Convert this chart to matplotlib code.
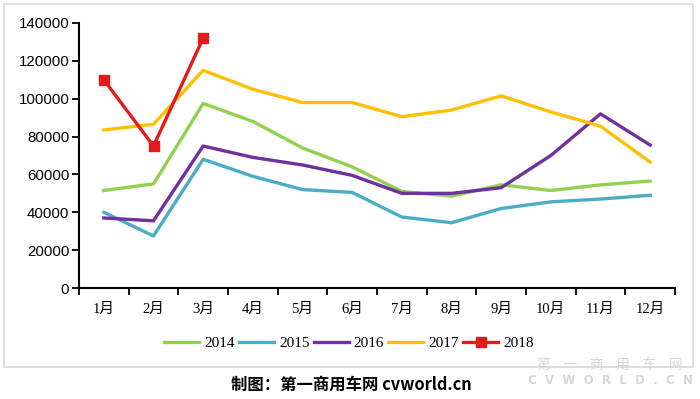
import matplotlib
matplotlib.use("Agg")
import matplotlib.pyplot as plt
from matplotlib.patches import Rectangle
import numpy as np

months = ["1月", "2月", "3月", "4月", "5月", "6月", "7月", "8月", "9月", "10月", "11月", "12月"]
s2014 = [51500, 55000, 97500, 88000, 74000, 64000, 51000, 48500, 54500, 51500, 54500, 56500]
s2015 = [40000, 27500, 68000, 59000, 52000, 50500, 37500, 34500, 42000, 45500, 47000, 49000]
s2016 = [37000, 35500, 75000, 69000, 65000, 59500, 50000, 50000, 53000, 70000, 92000, 75500]
s2017 = [83500, 86500, 115000, 105000, 98000, 98000, 90500, 94000, 101500, 93000, 85500, 66500]
s2018 = [110000, 75000, 132000]
yticks = [0, 20000, 40000, 60000, 80000, 100000, 120000, 140000]

fig = plt.figure(figsize=(7.0, 3.99), dpi=100)
fig.patches.append(Rectangle((4/700, 1-367/399), 689/700, 363/399, transform=fig.transFigure,
                             fill=False, edgecolor="#d9d9d9", linewidth=1.2))
ax = fig.add_axes([79/700, 1-288/399, 596/700, 265/399])

x = np.arange(len(months))
lw = 2.4
ax.plot(x, s2014, color="#92d050", lw=lw, label="2014")
ax.plot(x, s2015, color="#4bacc6", lw=lw, label="2015")
ax.plot(x, s2016, color="#7030a0", lw=lw, label="2016")
ax.plot(x, s2017, color="#ffc000", lw=lw, label="2017")
ax.plot(x[:len(s2018)], s2018, color="#e31a1c", lw=lw, marker="s", markersize=7.5, label="2018")

ax.set_xlim(-0.5, len(months) - 0.5)
ax.set_ylim(0, 140000)
ax.set_yticks(yticks)
ax.set_yticklabels([str(v) for v in yticks], fontsize=10.8, family=["Liberation Sans"])
ax.set_xticks(np.arange(-0.5, len(months), 1.0))
ax.set_xticklabels([])
ax.set_xticks(x, minor=True)
ax.set_xticklabels(months, minor=True, fontsize=10.5, family=["Liberation Serif", "Noto Sans CJK SC"])
ax.tick_params(axis="x", which="minor", length=0, pad=11)
ax.tick_params(axis="x", which="major", length=5, width=1.3, direction="out")
ax.tick_params(axis="y", length=5, width=1.3, direction="out", pad=2)
for s in ["top", "right"]:
    ax.spines[s].set_visible(False)
for s in ["left", "bottom"]:
    ax.spines[s].set_linewidth(1.5)

leg = fig.legend(loc="center", bbox_to_anchor=(349/700, 1-343/399), ncol=5, frameon=False,
                 prop={"family": "Liberation Serif", "size": 11}, handlelength=2.3,
                 handletextpad=0.33, columnspacing=0.26)

fig.text(351/700, 1-385/399, "制图：第一商用车网 cvworld.cn", ha="center", va="center",
         fontsize=11.8, fontweight="bold", family=["Noto Sans CJK SC", "DejaVu Sans"])
fig.text(610/700, 1-365/399, "第    一    商    用    车    网", ha="center", va="center",
         fontsize=10, color="#d6d6d6", family=["Noto Sans CJK SC"])
fig.text(610/700, 1-380/399, "C  V  W  O  R  L  D  .  C  N", ha="center", va="center",
         fontsize=8.5, color="#d6d6d6", fontweight="bold", family=["DejaVu Sans"])

fig.savefig("out.png", dpi=100)
